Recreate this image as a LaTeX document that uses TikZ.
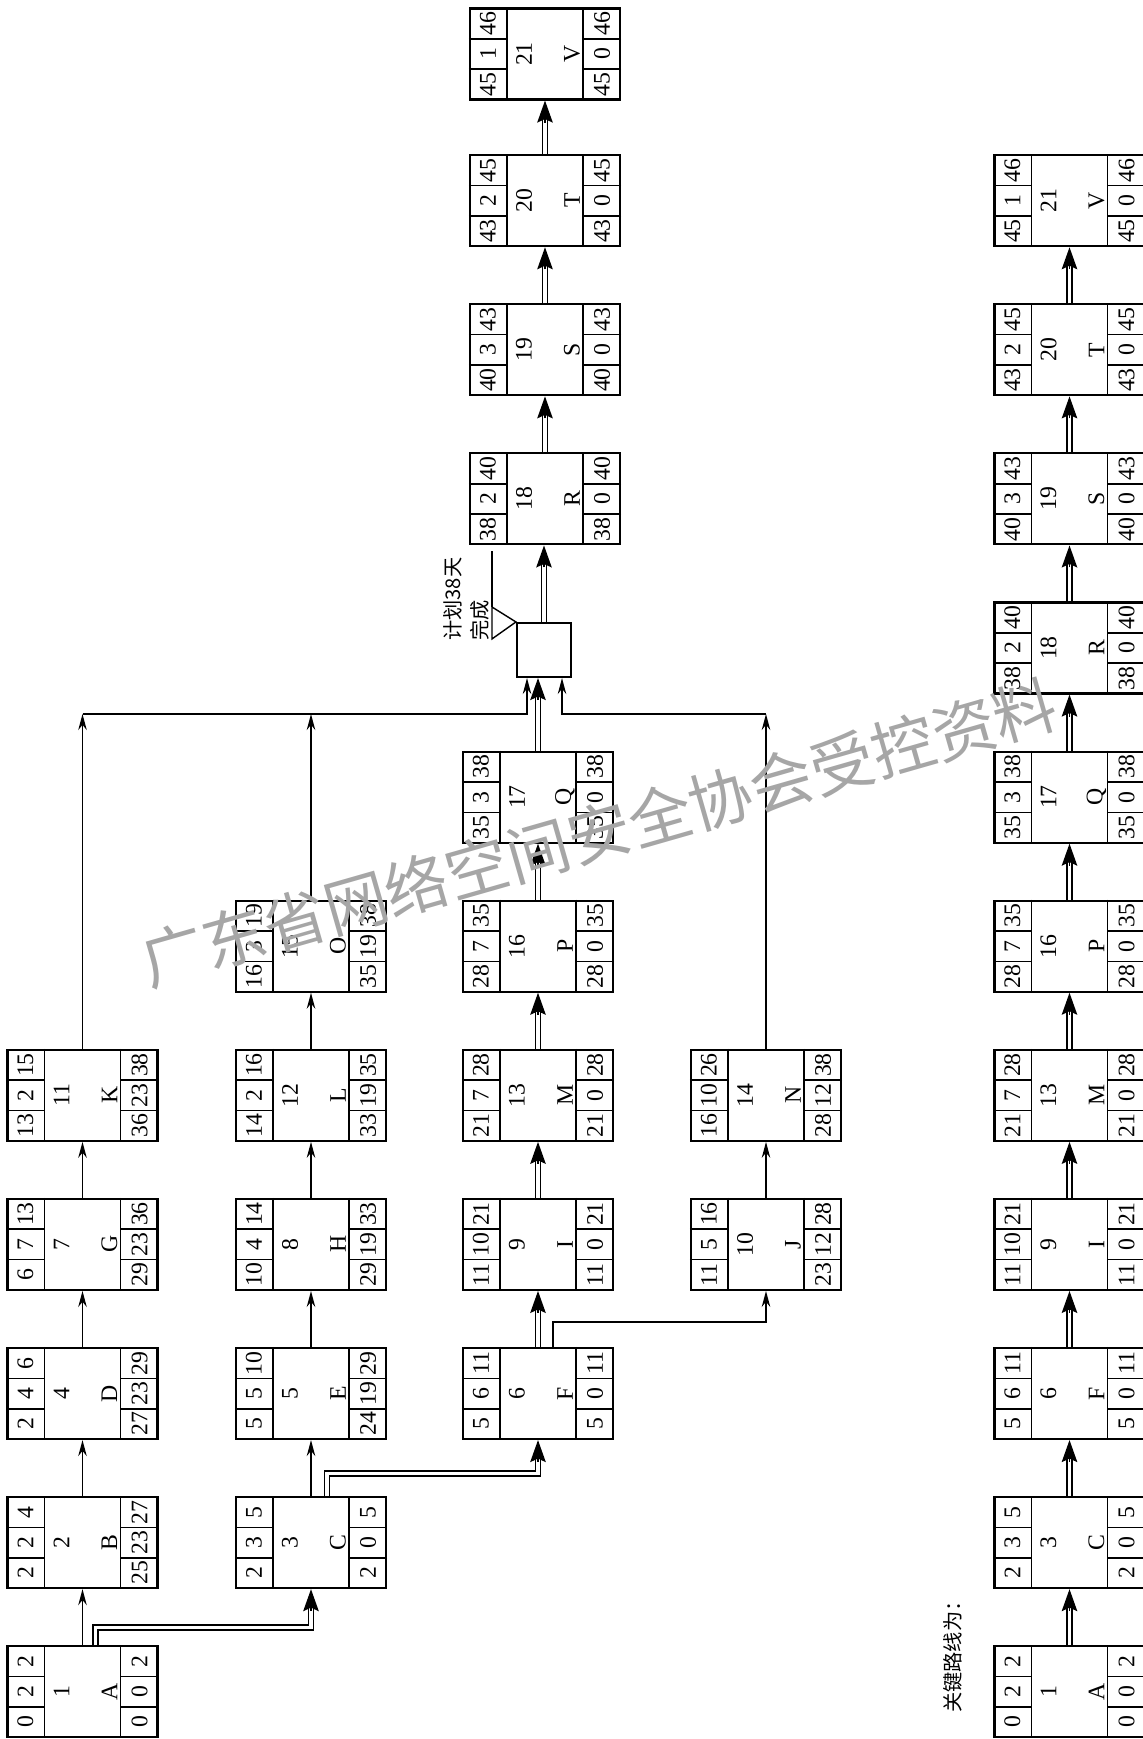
\documentclass[tikz,border=0pt]{standalone}
\usepackage{fontspec}
\usepackage{tikz}
\usetikzlibrary{arrows.meta,calc,positioning}
\setmainfont{Liberation Serif}
\newfontfamily\cjk{Noto Sans CJK SC}

% cells of an activity box: node, id, letter, ES, D, EF, LS, TF, LF
\newcommand{\actcells}[9]{%
  \draw[cellline] ($(#1.north west)+(38,0)$) -- ($(#1.south west)+(38,0)$)
                  ($(#1.north east)+(-38,0)$) -- ($(#1.south east)+(-38,0)$);
  \foreach \dy in {-15.2,15.2} {
    \draw[cellline] ($(#1.west)+(0,\dy)$) -- ++(38,0);
    \draw[cellline] ($(#1.east)+(0,\dy)$) -- ++(-38,0);
  }
  \node[num] (#1-es) at ($(#1.west)+(19,30.3)$) {#4};
  \node[num] (#1-du) at ($(#1.west)+(19,0)$) {#5};
  \node[num] (#1-ef) at ($(#1.west)+(19,-30.3)$) {#6};
  \node[num] (#1-ls) at ($(#1.east)+(-19,30.3)$) {#7};
  \node[num] (#1-tf) at ($(#1.east)+(-19,0)$) {#8};
  \node[num] (#1-lf) at ($(#1.east)+(-19,-30.3)$) {#9};
  \node[num] (#1-id) at ($(#1.center)+(-21,0)$) {#2};
  \node[num] (#1-lt) at ($(#1.center)+(27,0)$) {#3};
}
% critical link straight up
\newcommand{\critup}[2]{%
  \draw[critline] (#1.north) -- ($(#1.north |- #2.south)+(0,16)$);
  \draw[crittip] ($(#1.north |- #2.south)+(0,22)$) -- (#1.north |- #2.south);
}

\begin{document}
\begin{tikzpicture}[
    x=0.02cm, y=-0.02cm,
    actbox/.style={rectangle, draw, line width=1.2pt, minimum width=3.0cm, minimum height=1.82cm, inner sep=0pt},
    cellline/.style={line width=0.9pt},
    num/.style={rotate=90, inner sep=0pt, font=\fontsize{13.5}{13.5}\selectfont},
    arrow/.style={-{Stealth[length=3.2mm, width=1.7mm]}, line width=0.8pt},
    critline/.style={double, double distance=0.7mm, line width=0.32mm},
    crittip/.style={-{Stealth[length=4.4mm, width=3.1mm, inset=0.7mm]}, line width=0.3mm},
    cjktext/.style={rotate=90, anchor=west, inner sep=0pt, font=\cjk\fontsize{11.5}{12}\selectfont}
]
\useasboundingbox (0,0) rectangle (1143,1739);

% Column 1
\node[actbox] (A) at (82.5,1691.7) {}; \actcells{A}{1}{A}{0}{2}{2}{0}{0}{2}
\node[actbox] (B) at (82.5,1542.6) {}; \actcells{B}{2}{B}{2}{2}{4}{25}{23}{27}
\node[actbox] (D) at (82.5,1393.5) {}; \actcells{D}{4}{D}{2}{4}{6}{27}{23}{29}
\node[actbox] (G) at (82.5,1244.4) {}; \actcells{G}{7}{G}{6}{7}{13}{29}{23}{36}
\node[actbox] (K) at (82.5,1095.3) {}; \actcells{K}{11}{K}{13}{2}{15}{36}{23}{38}

% Column 2
\node[actbox] (C) at (311,1542.6) {}; \actcells{C}{3}{C}{2}{3}{5}{2}{0}{5}
\node[actbox] (E) at (311,1393.5) {}; \actcells{E}{5}{E}{5}{5}{10}{24}{19}{29}
\node[actbox] (H) at (311,1244.4) {}; \actcells{H}{8}{H}{10}{4}{14}{29}{19}{33}
\node[actbox] (L) at (311,1095.3) {}; \actcells{L}{12}{L}{14}{2}{16}{33}{19}{35}
\node[actbox] (O) at (311,946.2) {}; \actcells{O}{15}{O}{16}{3}{19}{35}{19}{38}

% Column 3
\node[actbox] (F) at (538,1393.5) {}; \actcells{F}{6}{F}{5}{6}{11}{5}{0}{11}
\node[actbox] (I) at (538,1244.4) {}; \actcells{I}{9}{I}{11}{10}{21}{11}{0}{21}
\node[actbox] (M) at (538,1095.3) {}; \actcells{M}{13}{M}{21}{7}{28}{21}{0}{28}
\node[actbox] (P) at (538,946.2) {}; \actcells{P}{16}{P}{28}{7}{35}{28}{0}{35}
\node[actbox] (Q) at (538,797.1) {}; \actcells{Q}{17}{Q}{35}{3}{38}{35}{0}{38}

% Column 4
\node[actbox] (J) at (766,1244.4) {}; \actcells{J}{10}{J}{11}{5}{16}{23}{12}{28}
\node[actbox] (N) at (766,1095.3) {}; \actcells{N}{14}{N}{16}{10}{26}{28}{12}{38}

% Milestone and upper chain
\node[draw, line width=1.2pt, minimum size=1.08cm, inner sep=0pt] (sq) at (544,650) {};
\node[actbox] (R) at (545,498.9) {}; \actcells{R}{18}{R}{38}{2}{40}{38}{0}{40}
\node[actbox] (S) at (545,349.8) {}; \actcells{S}{19}{S}{40}{3}{43}{40}{0}{43}
\node[actbox] (T) at (545,200.7) {}; \actcells{T}{20}{T}{43}{2}{45}{43}{0}{45}
\node[actbox] (V) at (545,54) {}; \actcells{V}{21}{V}{45}{1}{46}{45}{0}{46}

% Flag
\draw[line width=0.8pt] (sq.north west) -- ++(-24,-15) -- ++(0,32) -- cycle;
\draw[line width=0.8pt] ($(sq.north west)+(-24,-15)$) -- ++(0,-56);
\node[cjktext] (plan1) at (453,641) {计划38天};
\node[cjktext] (plan2) at (480,641) {完成};

% Single arrows
\foreach \u/\v in {A/B,B/D,D/G,G/K,C/E,E/H,H/L,L/O,J/N}
  \draw[arrow] (\u.north) -- (\u.north |- \v.south);
\draw[arrow] ($(F.north)+(15,0)$) -- ++(0,-25) -| (J.south);

% Bus into milestone
\coordinate (bus) at (0,714);
\draw[arrow] (K.north) -- (K.north |- bus);
\draw[arrow] (O.north) -- (O.north |- bus);
\draw[arrow] (N.north) -- (N.north |- bus);
\draw[arrow] (K.north |- bus) -| ($(sq.south)+(-17,0)$);
\draw[arrow] (N.north |- bus) -| ($(sq.south)+(18,0)$);

% Critical links
\draw[critline] ($(A.north)+(13,0)$) -- ++(0,-17.5) -| ($(C.south)+(0,16)$);
\draw[crittip] ($(C.south)+(0,22)$) -- (C.south);
\draw[critline] ($(C.north)+(16,0)$) -- ++(0,-22.5) -| ($(F.south)+(0,16)$);
\draw[crittip] ($(F.south)+(0,22)$) -- (F.south);
\foreach \u/\v in {F/I,I/M,M/P,P/Q,Q/sq,sq/R,R/S,S/T,T/V}
  {\critup{\u}{\v}}

% Critical path
\node[cjktext] (critlabel) at (953,1713) {关键路线为：};
\foreach \nm/\n/\id/\lt/\es/\du/\ef/\ls/\tf/\lf in {A/0/1/A/0/2/2/0/0/2, C/1/3/C/2/3/5/2/0/5,
    F/2/6/F/5/6/11/5/0/11, I/3/9/I/11/10/21/11/0/21, M/4/13/M/21/7/28/21/0/28,
    P/5/16/P/28/7/35/28/0/35, Q/6/17/Q/35/3/38/35/0/38, R/7/18/R/38/2/40/38/0/40,
    S/8/19/S/40/3/43/40/0/43, T/9/20/T/43/2/45/43/0/45, V/10/21/V/45/1/46/45/0/46}
  {\node[actbox] (k\nm) at (1069.5,{1691.7-149.1*\n}) {};
   \actcells{k\nm}{\id}{\lt}{\es}{\du}{\ef}{\ls}{\tf}{\lf}}
\foreach \u/\v in {A/C,C/F,F/I,I/M,M/P,P/Q,Q/R,R/S,S/T,T/V}
  {\critup{k\u}{k\v}}

% Watermark
\node[rotate=16, text=black!35, font=\cjk\fontsize{36}{36}\selectfont, inner sep=0pt] (wm) at (599,833) {广东省网络空间安全协会受控资料};
\end{tikzpicture}
\end{document}
